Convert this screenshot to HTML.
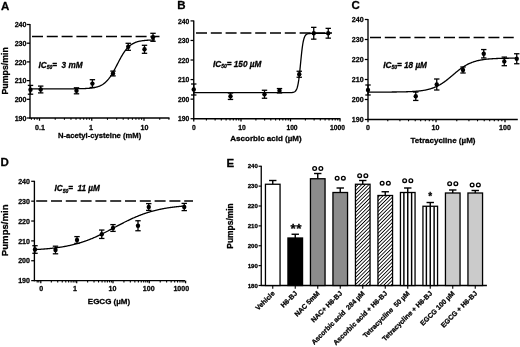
<!DOCTYPE html>
<html><head><meta charset="utf-8"><title>Figure</title>
<style>
html,body{margin:0;padding:0;background:#fff;}
body{width:520px;height:347px;overflow:hidden;}
svg{display:block;will-change:transform;font-family:'Liberation Sans', Arial, sans-serif;fill:#000;}
text{stroke:#000;stroke-width:0.28px;stroke-linejoin:round;}
</style></head><body>
<svg width="520" height="347" viewBox="0 0 520 347">
<rect width="520" height="347" fill="#fff"/>
<line x1="30.00" y1="24.00" x2="30.00" y2="118.60" stroke="#000" stroke-width="1.35" />
<line x1="29.40" y1="118.00" x2="169.50" y2="118.00" stroke="#000" stroke-width="1.35" />
<line x1="26.80" y1="118.00" x2="30.00" y2="118.00" stroke="#000" stroke-width="1.25" />
<text x="0.00" y="0.00" font-size="7.8" text-anchor="end" font-weight="bold" font-style="normal" transform="translate(26.50,120.75) scale(0.91,1)">190</text>
<line x1="26.80" y1="99.30" x2="30.00" y2="99.30" stroke="#000" stroke-width="1.25" />
<text x="0.00" y="0.00" font-size="7.8" text-anchor="end" font-weight="bold" font-style="normal" transform="translate(26.50,102.05) scale(0.91,1)">200</text>
<line x1="26.80" y1="80.60" x2="30.00" y2="80.60" stroke="#000" stroke-width="1.25" />
<text x="0.00" y="0.00" font-size="7.8" text-anchor="end" font-weight="bold" font-style="normal" transform="translate(26.50,83.35) scale(0.91,1)">210</text>
<line x1="26.80" y1="61.90" x2="30.00" y2="61.90" stroke="#000" stroke-width="1.25" />
<text x="0.00" y="0.00" font-size="7.8" text-anchor="end" font-weight="bold" font-style="normal" transform="translate(26.50,64.65) scale(0.91,1)">220</text>
<line x1="26.80" y1="43.20" x2="30.00" y2="43.20" stroke="#000" stroke-width="1.25" />
<text x="0.00" y="0.00" font-size="7.8" text-anchor="end" font-weight="bold" font-style="normal" transform="translate(26.50,45.95) scale(0.91,1)">230</text>
<line x1="26.80" y1="24.50" x2="30.00" y2="24.50" stroke="#000" stroke-width="1.25" />
<text x="0.00" y="0.00" font-size="7.8" text-anchor="end" font-weight="bold" font-style="normal" transform="translate(26.50,27.25) scale(0.91,1)">240</text>
<line x1="39.50" y1="118.00" x2="39.50" y2="120.70" stroke="#000" stroke-width="1.25" />
<text x="0.00" y="0.00" font-size="7.8" text-anchor="middle" font-weight="bold" font-style="normal" transform="translate(40.00,129.80) scale(0.91,1)">0.1</text>
<line x1="91.75" y1="118.00" x2="91.75" y2="120.70" stroke="#000" stroke-width="1.25" />
<text x="0.00" y="0.00" font-size="7.8" text-anchor="middle" font-weight="bold" font-style="normal" transform="translate(91.00,129.80) scale(0.91,1)">1</text>
<line x1="144.00" y1="118.00" x2="144.00" y2="120.70" stroke="#000" stroke-width="1.25" />
<text x="0.00" y="0.00" font-size="7.8" text-anchor="middle" font-weight="bold" font-style="normal" transform="translate(144.50,129.80) scale(0.91,1)">10</text>
<line x1="31.41" y1="118.00" x2="31.41" y2="119.80" stroke="#000" stroke-width="1.1" />
<line x1="34.44" y1="118.00" x2="34.44" y2="119.80" stroke="#000" stroke-width="1.1" />
<line x1="37.11" y1="118.00" x2="37.11" y2="119.80" stroke="#000" stroke-width="1.1" />
<line x1="55.23" y1="118.00" x2="55.23" y2="119.80" stroke="#000" stroke-width="1.1" />
<line x1="64.43" y1="118.00" x2="64.43" y2="119.80" stroke="#000" stroke-width="1.1" />
<line x1="70.96" y1="118.00" x2="70.96" y2="119.80" stroke="#000" stroke-width="1.1" />
<line x1="76.02" y1="118.00" x2="76.02" y2="119.80" stroke="#000" stroke-width="1.1" />
<line x1="80.16" y1="118.00" x2="80.16" y2="119.80" stroke="#000" stroke-width="1.1" />
<line x1="83.66" y1="118.00" x2="83.66" y2="119.80" stroke="#000" stroke-width="1.1" />
<line x1="86.69" y1="118.00" x2="86.69" y2="119.80" stroke="#000" stroke-width="1.1" />
<line x1="89.36" y1="118.00" x2="89.36" y2="119.80" stroke="#000" stroke-width="1.1" />
<line x1="107.48" y1="118.00" x2="107.48" y2="119.80" stroke="#000" stroke-width="1.1" />
<line x1="116.68" y1="118.00" x2="116.68" y2="119.80" stroke="#000" stroke-width="1.1" />
<line x1="123.21" y1="118.00" x2="123.21" y2="119.80" stroke="#000" stroke-width="1.1" />
<line x1="128.27" y1="118.00" x2="128.27" y2="119.80" stroke="#000" stroke-width="1.1" />
<line x1="132.41" y1="118.00" x2="132.41" y2="119.80" stroke="#000" stroke-width="1.1" />
<line x1="135.91" y1="118.00" x2="135.91" y2="119.80" stroke="#000" stroke-width="1.1" />
<line x1="138.94" y1="118.00" x2="138.94" y2="119.80" stroke="#000" stroke-width="1.1" />
<line x1="141.61" y1="118.00" x2="141.61" y2="119.80" stroke="#000" stroke-width="1.1" />
<line x1="159.73" y1="118.00" x2="159.73" y2="119.80" stroke="#000" stroke-width="1.1" />
<line x1="168.93" y1="118.00" x2="168.93" y2="119.80" stroke="#000" stroke-width="1.1" />
<line x1="32.00" y1="36.47" x2="159.50" y2="36.47" stroke="#000" stroke-width="1.5" stroke-dasharray="11 3.8"/>
<polyline points="30.00,88.83 30.50,88.83 31.00,88.83 31.50,88.83 32.00,88.83 32.50,88.83 33.00,88.83 33.50,88.83 34.00,88.83 34.50,88.83 35.00,88.83 35.50,88.83 36.00,88.83 36.50,88.83 37.00,88.83 37.50,88.83 38.00,88.83 38.50,88.83 39.00,88.83 39.50,88.83 40.00,88.83 40.50,88.83 41.00,88.83 41.50,88.83 42.00,88.83 42.50,88.83 43.00,88.83 43.50,88.83 44.00,88.83 44.50,88.83 45.00,88.83 45.50,88.83 46.00,88.83 46.50,88.83 47.00,88.83 47.50,88.83 48.00,88.83 48.50,88.83 49.00,88.83 49.50,88.83 50.00,88.83 50.50,88.83 51.00,88.83 51.50,88.83 52.00,88.83 52.50,88.83 53.00,88.83 53.50,88.83 54.00,88.83 54.50,88.83 55.00,88.83 55.50,88.83 56.00,88.83 56.50,88.82 57.00,88.82 57.50,88.82 58.00,88.82 58.50,88.82 59.00,88.82 59.50,88.82 60.00,88.82 60.50,88.82 61.00,88.82 61.50,88.82 62.00,88.82 62.50,88.82 63.00,88.82 63.50,88.82 64.00,88.82 64.50,88.82 65.00,88.82 65.50,88.81 66.00,88.81 66.50,88.81 67.00,88.81 67.50,88.81 68.00,88.81 68.50,88.81 69.00,88.80 69.50,88.80 70.00,88.80 70.50,88.80 71.00,88.80 71.50,88.79 72.00,88.79 72.50,88.79 73.00,88.78 73.50,88.78 74.00,88.78 74.50,88.77 75.00,88.77 75.50,88.76 76.00,88.76 76.50,88.75 77.00,88.75 77.50,88.74 78.00,88.73 78.50,88.72 79.00,88.72 79.50,88.71 80.00,88.70 80.50,88.69 81.00,88.67 81.50,88.66 82.00,88.65 82.50,88.63 83.00,88.62 83.50,88.60 84.00,88.58 84.50,88.56 85.00,88.54 85.50,88.51 86.00,88.49 86.50,88.46 87.00,88.43 87.50,88.40 88.00,88.36 88.50,88.32 89.00,88.28 89.50,88.24 90.00,88.19 90.50,88.14 91.00,88.08 91.50,88.02 92.00,87.96 92.50,87.88 93.00,87.81 93.50,87.73 94.00,87.64 94.50,87.54 95.00,87.44 95.50,87.33 96.00,87.21 96.50,87.08 97.00,86.94 97.50,86.79 98.00,86.63 98.50,86.46 99.00,86.27 99.50,86.07 100.00,85.86 100.50,85.63 101.00,85.38 101.50,85.12 102.00,84.84 102.50,84.54 103.00,84.22 103.50,83.88 104.00,83.51 104.50,83.13 105.00,82.71 105.50,82.28 106.00,81.81 106.50,81.32 107.00,80.80 107.50,80.26 108.00,79.68 108.50,79.08 109.00,78.44 109.50,77.78 110.00,77.09 110.50,76.36 111.00,75.61 111.50,74.83 112.00,74.03 112.50,73.19 113.00,72.34 113.50,71.46 114.00,70.56 114.50,69.64 115.00,68.71 115.50,67.76 116.00,66.80 116.50,65.84 117.00,64.87 117.50,63.90 118.00,62.93 118.50,61.96 119.00,61.00 119.50,60.06 120.00,59.12 120.50,58.20 121.00,57.30 121.50,56.42 122.00,55.56 122.50,54.72 123.00,53.92 123.50,53.13 124.00,52.38 124.50,51.65 125.00,50.96 125.50,50.29 126.00,49.65 126.50,49.04 127.00,48.46 127.50,47.92 128.00,47.39 128.50,46.90 129.00,46.43 129.50,45.99 130.00,45.58 130.50,45.19 131.00,44.82 131.50,44.48 132.00,44.16 132.50,43.85 133.00,43.57 133.50,43.31 134.00,43.06 134.50,42.83 135.00,42.61 135.50,42.41 136.00,42.22 136.50,42.05 137.00,41.89 137.50,41.74 138.00,41.60 138.50,41.47 139.00,41.35 139.50,41.23 140.00,41.13 140.50,41.03 141.00,40.94 141.50,40.86 142.00,40.79 142.50,40.71 143.00,40.65 143.50,40.59 144.00,40.53 144.50,40.48 145.00,40.43 145.50,40.38 146.00,40.34 146.50,40.30 147.00,40.27 147.50,40.24 148.00,40.21 148.50,40.18 149.00,40.15 149.50,40.13 150.00,40.11 150.50,40.08 151.00,40.07 151.50,40.05 152.00,40.03 152.50,40.02 153.00,40.00 153.50,39.99 154.00,39.98 154.50,39.97 155.00,39.96" fill="none" stroke="#000" stroke-width="1.3"/>
<line x1="30.50" y1="85.40" x2="30.50" y2="94.20" stroke="#000" stroke-width="1.3" />
<line x1="27.80" y1="85.40" x2="33.20" y2="85.40" stroke="#000" stroke-width="1.3" />
<line x1="27.80" y1="94.20" x2="33.20" y2="94.20" stroke="#000" stroke-width="1.3" />
<circle cx="30.50" cy="89.80" r="2.2" fill="#000"/>
<line x1="40.70" y1="86.10" x2="40.70" y2="92.90" stroke="#000" stroke-width="1.3" />
<line x1="38.00" y1="86.10" x2="43.40" y2="86.10" stroke="#000" stroke-width="1.3" />
<line x1="38.00" y1="92.90" x2="43.40" y2="92.90" stroke="#000" stroke-width="1.3" />
<circle cx="40.70" cy="89.50" r="2.2" fill="#000"/>
<line x1="76.50" y1="87.80" x2="76.50" y2="93.80" stroke="#000" stroke-width="1.3" />
<line x1="73.80" y1="87.80" x2="79.20" y2="87.80" stroke="#000" stroke-width="1.3" />
<line x1="73.80" y1="93.80" x2="79.20" y2="93.80" stroke="#000" stroke-width="1.3" />
<circle cx="76.50" cy="90.80" r="2.2" fill="#000"/>
<line x1="92.40" y1="79.70" x2="92.40" y2="87.50" stroke="#000" stroke-width="1.3" />
<line x1="89.70" y1="79.70" x2="95.10" y2="79.70" stroke="#000" stroke-width="1.3" />
<line x1="89.70" y1="87.50" x2="95.10" y2="87.50" stroke="#000" stroke-width="1.3" />
<circle cx="92.40" cy="83.60" r="2.2" fill="#000"/>
<line x1="113.00" y1="71.10" x2="113.00" y2="75.90" stroke="#000" stroke-width="1.3" />
<line x1="110.30" y1="71.10" x2="115.70" y2="71.10" stroke="#000" stroke-width="1.3" />
<line x1="110.30" y1="75.90" x2="115.70" y2="75.90" stroke="#000" stroke-width="1.3" />
<circle cx="113.00" cy="73.50" r="2.2" fill="#000"/>
<line x1="128.25" y1="43.30" x2="128.25" y2="50.30" stroke="#000" stroke-width="1.3" />
<line x1="125.55" y1="43.30" x2="130.95" y2="43.30" stroke="#000" stroke-width="1.3" />
<line x1="125.55" y1="50.30" x2="130.95" y2="50.30" stroke="#000" stroke-width="1.3" />
<circle cx="128.25" cy="46.80" r="2.2" fill="#000"/>
<line x1="144.50" y1="45.30" x2="144.50" y2="53.30" stroke="#000" stroke-width="1.3" />
<line x1="141.80" y1="45.30" x2="147.20" y2="45.30" stroke="#000" stroke-width="1.3" />
<line x1="141.80" y1="53.30" x2="147.20" y2="53.30" stroke="#000" stroke-width="1.3" />
<circle cx="144.50" cy="49.30" r="2.2" fill="#000"/>
<line x1="153.00" y1="33.30" x2="153.00" y2="41.30" stroke="#000" stroke-width="1.3" />
<line x1="150.30" y1="33.30" x2="155.70" y2="33.30" stroke="#000" stroke-width="1.3" />
<line x1="150.30" y1="41.30" x2="155.70" y2="41.30" stroke="#000" stroke-width="1.3" />
<circle cx="153.00" cy="37.30" r="2.2" fill="#000"/>
<text x="0.90" y="9.60" font-size="11.5" text-anchor="start" font-weight="bold" font-style="normal" >A</text>
<text x="38.5" y="68" font-size="8.2" font-weight="bold" font-style="italic" text-anchor="start">IC<tspan font-size="5.0" dy="1.3">50</tspan><tspan dy="-1.3">=&#160; 3 mM</tspan></text>
<text x="99.60" y="138.40" font-size="7.65" text-anchor="middle" font-weight="bold" font-style="normal" >N-acetyl-cysteine (mM)</text>
<text x="0.00" y="0.00" font-size="8.8" text-anchor="middle" font-weight="bold" font-style="normal" transform="translate(7.5,70.8) rotate(-90)">Pumps/min</text>
<line x1="193.75" y1="20.40" x2="193.75" y2="119.30" stroke="#000" stroke-width="1.35" />
<line x1="193.15" y1="118.70" x2="340.50" y2="118.70" stroke="#000" stroke-width="1.35" />
<line x1="190.55" y1="118.70" x2="193.75" y2="118.70" stroke="#000" stroke-width="1.25" />
<text x="0.00" y="0.00" font-size="7.4" text-anchor="end" font-weight="bold" font-style="normal" transform="translate(189.35,121.45) scale(0.91,1)">190</text>
<line x1="190.55" y1="99.14" x2="193.75" y2="99.14" stroke="#000" stroke-width="1.25" />
<text x="0.00" y="0.00" font-size="7.4" text-anchor="end" font-weight="bold" font-style="normal" transform="translate(189.35,101.89) scale(0.91,1)">200</text>
<line x1="190.55" y1="79.58" x2="193.75" y2="79.58" stroke="#000" stroke-width="1.25" />
<text x="0.00" y="0.00" font-size="7.4" text-anchor="end" font-weight="bold" font-style="normal" transform="translate(189.35,82.33) scale(0.91,1)">210</text>
<line x1="190.55" y1="60.02" x2="193.75" y2="60.02" stroke="#000" stroke-width="1.25" />
<text x="0.00" y="0.00" font-size="7.4" text-anchor="end" font-weight="bold" font-style="normal" transform="translate(189.35,62.77) scale(0.91,1)">220</text>
<line x1="190.55" y1="40.46" x2="193.75" y2="40.46" stroke="#000" stroke-width="1.25" />
<text x="0.00" y="0.00" font-size="7.4" text-anchor="end" font-weight="bold" font-style="normal" transform="translate(189.35,43.21) scale(0.91,1)">230</text>
<line x1="190.55" y1="20.90" x2="193.75" y2="20.90" stroke="#000" stroke-width="1.25" />
<text x="0.00" y="0.00" font-size="7.4" text-anchor="end" font-weight="bold" font-style="normal" transform="translate(189.35,23.65) scale(0.91,1)">240</text>
<line x1="193.75" y1="118.70" x2="193.75" y2="121.40" stroke="#000" stroke-width="1.25" />
<text x="0.00" y="0.00" font-size="7.4" text-anchor="middle" font-weight="bold" font-style="normal" transform="translate(193.75,130.00) scale(0.91,1)">0</text>
<line x1="241.00" y1="118.70" x2="241.00" y2="121.40" stroke="#000" stroke-width="1.25" />
<text x="0.00" y="0.00" font-size="7.4" text-anchor="middle" font-weight="bold" font-style="normal" transform="translate(242.00,130.00) scale(0.91,1)">10</text>
<line x1="290.50" y1="118.70" x2="290.50" y2="121.40" stroke="#000" stroke-width="1.25" />
<text x="0.00" y="0.00" font-size="7.4" text-anchor="middle" font-weight="bold" font-style="normal" transform="translate(292.00,130.00) scale(0.91,1)">100</text>
<line x1="340.00" y1="118.70" x2="340.00" y2="121.40" stroke="#000" stroke-width="1.25" />
<text x="0.00" y="0.00" font-size="7.4" text-anchor="middle" font-weight="bold" font-style="normal" transform="translate(337.50,130.00) scale(0.91,1)">1000</text>
<line x1="206.40" y1="118.70" x2="206.40" y2="120.50" stroke="#000" stroke-width="1.1" />
<line x1="215.12" y1="118.70" x2="215.12" y2="120.50" stroke="#000" stroke-width="1.1" />
<line x1="221.30" y1="118.70" x2="221.30" y2="120.50" stroke="#000" stroke-width="1.1" />
<line x1="226.10" y1="118.70" x2="226.10" y2="120.50" stroke="#000" stroke-width="1.1" />
<line x1="230.02" y1="118.70" x2="230.02" y2="120.50" stroke="#000" stroke-width="1.1" />
<line x1="233.33" y1="118.70" x2="233.33" y2="120.50" stroke="#000" stroke-width="1.1" />
<line x1="236.20" y1="118.70" x2="236.20" y2="120.50" stroke="#000" stroke-width="1.1" />
<line x1="238.74" y1="118.70" x2="238.74" y2="120.50" stroke="#000" stroke-width="1.1" />
<line x1="255.90" y1="118.70" x2="255.90" y2="120.50" stroke="#000" stroke-width="1.1" />
<line x1="264.62" y1="118.70" x2="264.62" y2="120.50" stroke="#000" stroke-width="1.1" />
<line x1="270.80" y1="118.70" x2="270.80" y2="120.50" stroke="#000" stroke-width="1.1" />
<line x1="275.60" y1="118.70" x2="275.60" y2="120.50" stroke="#000" stroke-width="1.1" />
<line x1="279.52" y1="118.70" x2="279.52" y2="120.50" stroke="#000" stroke-width="1.1" />
<line x1="282.83" y1="118.70" x2="282.83" y2="120.50" stroke="#000" stroke-width="1.1" />
<line x1="285.70" y1="118.70" x2="285.70" y2="120.50" stroke="#000" stroke-width="1.1" />
<line x1="288.24" y1="118.70" x2="288.24" y2="120.50" stroke="#000" stroke-width="1.1" />
<line x1="305.40" y1="118.70" x2="305.40" y2="120.50" stroke="#000" stroke-width="1.1" />
<line x1="314.12" y1="118.70" x2="314.12" y2="120.50" stroke="#000" stroke-width="1.1" />
<line x1="320.30" y1="118.70" x2="320.30" y2="120.50" stroke="#000" stroke-width="1.1" />
<line x1="325.10" y1="118.70" x2="325.10" y2="120.50" stroke="#000" stroke-width="1.1" />
<line x1="329.02" y1="118.70" x2="329.02" y2="120.50" stroke="#000" stroke-width="1.1" />
<line x1="332.33" y1="118.70" x2="332.33" y2="120.50" stroke="#000" stroke-width="1.1" />
<line x1="335.20" y1="118.70" x2="335.20" y2="120.50" stroke="#000" stroke-width="1.1" />
<line x1="337.74" y1="118.70" x2="337.74" y2="120.50" stroke="#000" stroke-width="1.1" />
<line x1="196.00" y1="32.93" x2="332.00" y2="32.93" stroke="#000" stroke-width="1.5" stroke-dasharray="11 3.8"/>
<polyline points="193.75,92.69 194.25,92.69 194.75,92.69 195.25,92.69 195.75,92.69 196.25,92.69 196.75,92.69 197.25,92.69 197.75,92.69 198.25,92.69 198.75,92.69 199.25,92.69 199.75,92.69 200.25,92.69 200.75,92.69 201.25,92.69 201.75,92.69 202.25,92.69 202.75,92.69 203.25,92.69 203.75,92.69 204.25,92.69 204.75,92.69 205.25,92.69 205.75,92.69 206.25,92.69 206.75,92.69 207.25,92.69 207.75,92.69 208.25,92.69 208.75,92.69 209.25,92.69 209.75,92.69 210.25,92.69 210.75,92.69 211.25,92.69 211.75,92.69 212.25,92.69 212.75,92.69 213.25,92.69 213.75,92.69 214.25,92.69 214.75,92.69 215.25,92.69 215.75,92.69 216.25,92.69 216.75,92.69 217.25,92.69 217.75,92.69 218.25,92.69 218.75,92.69 219.25,92.69 219.75,92.69 220.25,92.69 220.75,92.69 221.25,92.69 221.75,92.69 222.25,92.69 222.75,92.69 223.25,92.69 223.75,92.69 224.25,92.69 224.75,92.69 225.25,92.69 225.75,92.69 226.25,92.69 226.75,92.69 227.25,92.69 227.75,92.69 228.25,92.69 228.75,92.69 229.25,92.69 229.75,92.69 230.25,92.69 230.75,92.69 231.25,92.69 231.75,92.69 232.25,92.69 232.75,92.69 233.25,92.69 233.75,92.69 234.25,92.69 234.75,92.69 235.25,92.69 235.75,92.69 236.25,92.69 236.75,92.69 237.25,92.69 237.75,92.69 238.25,92.69 238.75,92.69 239.25,92.69 239.75,92.69 240.25,92.69 240.75,92.69 241.25,92.69 241.75,92.69 242.25,92.69 242.75,92.69 243.25,92.69 243.75,92.69 244.25,92.69 244.75,92.69 245.25,92.69 245.75,92.69 246.25,92.69 246.75,92.69 247.25,92.69 247.75,92.69 248.25,92.69 248.75,92.69 249.25,92.69 249.75,92.69 250.25,92.69 250.75,92.69 251.25,92.69 251.75,92.69 252.25,92.69 252.75,92.69 253.25,92.69 253.75,92.69 254.25,92.69 254.75,92.69 255.25,92.69 255.75,92.69 256.25,92.69 256.75,92.69 257.25,92.69 257.75,92.69 258.25,92.69 258.75,92.69 259.25,92.69 259.75,92.69 260.25,92.69 260.75,92.69 261.25,92.69 261.75,92.69 262.25,92.69 262.75,92.69 263.25,92.69 263.75,92.69 264.25,92.69 264.75,92.69 265.25,92.69 265.75,92.69 266.25,92.69 266.75,92.69 267.25,92.69 267.75,92.69 268.25,92.69 268.75,92.69 269.25,92.69 269.75,92.69 270.25,92.69 270.75,92.69 271.25,92.69 271.75,92.69 272.25,92.69 272.75,92.69 273.25,92.69 273.75,92.69 274.25,92.69 274.75,92.69 275.25,92.69 275.75,92.69 276.25,92.69 276.75,92.69 277.25,92.69 277.75,92.69 278.25,92.69 278.75,92.69 279.25,92.69 279.75,92.69 280.25,92.69 280.75,92.69 281.25,92.69 281.75,92.69 282.25,92.69 282.75,92.68 283.25,92.68 283.75,92.68 284.25,92.68 284.75,92.68 285.25,92.68 285.75,92.68 286.25,92.68 286.75,92.68 287.25,92.68 287.75,92.68 288.25,92.67 288.75,92.67 289.25,92.66 289.75,92.65 290.25,92.64 290.75,92.62 291.25,92.60 291.75,92.56 292.25,92.51 292.75,92.44 293.25,92.34 293.75,92.19 294.25,91.99 294.75,91.70 295.25,91.30 295.75,90.75 296.25,89.97 296.75,88.91 297.25,87.48 297.75,85.57 298.25,83.08 298.75,79.93 299.25,76.09 299.75,71.63 300.25,66.69 300.75,61.54 301.25,56.48 301.75,51.80 302.25,47.69 302.75,44.25 303.25,41.50 303.75,39.36 304.25,37.73 304.75,36.53 305.25,35.65 305.75,35.01 306.25,34.55 306.75,34.22 307.25,33.99 307.75,33.82 308.25,33.70 308.75,33.62 309.25,33.56 309.75,33.52 310.25,33.49 310.75,33.47 311.25,33.45 311.75,33.44 312.25,33.44 312.75,33.43 313.25,33.43 313.75,33.42 314.25,33.42 314.75,33.42 315.25,33.42 315.75,33.42 316.25,33.42 316.75,33.42 317.25,33.42 317.75,33.42 318.25,33.42 318.75,33.42 319.25,33.42 319.75,33.42 320.25,33.42 320.75,33.42 321.25,33.42 321.75,33.42 322.25,33.42 322.75,33.42 323.25,33.42 323.75,33.42 324.25,33.42 324.75,33.42 325.25,33.42 325.75,33.42 326.25,33.42 326.75,33.42 327.25,33.42 327.75,33.42" fill="none" stroke="#000" stroke-width="1.3"/>
<line x1="193.75" y1="84.00" x2="193.75" y2="95.00" stroke="#000" stroke-width="1.3" />
<line x1="191.05" y1="84.00" x2="196.45" y2="84.00" stroke="#000" stroke-width="1.3" />
<line x1="191.05" y1="95.00" x2="196.45" y2="95.00" stroke="#000" stroke-width="1.3" />
<circle cx="193.75" cy="89.50" r="2.2" fill="#000"/>
<line x1="230.50" y1="93.05" x2="230.50" y2="99.45" stroke="#000" stroke-width="1.3" />
<line x1="227.80" y1="93.05" x2="233.20" y2="93.05" stroke="#000" stroke-width="1.3" />
<line x1="227.80" y1="99.45" x2="233.20" y2="99.45" stroke="#000" stroke-width="1.3" />
<circle cx="230.50" cy="96.25" r="2.2" fill="#000"/>
<line x1="264.50" y1="90.25" x2="264.50" y2="98.25" stroke="#000" stroke-width="1.3" />
<line x1="261.80" y1="90.25" x2="267.20" y2="90.25" stroke="#000" stroke-width="1.3" />
<line x1="261.80" y1="98.25" x2="267.20" y2="98.25" stroke="#000" stroke-width="1.3" />
<circle cx="264.50" cy="94.25" r="2.2" fill="#000"/>
<line x1="279.50" y1="88.55" x2="279.50" y2="92.95" stroke="#000" stroke-width="1.3" />
<line x1="276.80" y1="88.55" x2="282.20" y2="88.55" stroke="#000" stroke-width="1.3" />
<line x1="276.80" y1="92.95" x2="282.20" y2="92.95" stroke="#000" stroke-width="1.3" />
<circle cx="279.50" cy="90.75" r="2.2" fill="#000"/>
<line x1="299.25" y1="71.25" x2="299.25" y2="77.25" stroke="#000" stroke-width="1.3" />
<line x1="296.55" y1="71.25" x2="301.95" y2="71.25" stroke="#000" stroke-width="1.3" />
<line x1="296.55" y1="77.25" x2="301.95" y2="77.25" stroke="#000" stroke-width="1.3" />
<circle cx="299.25" cy="74.25" r="2.2" fill="#000"/>
<line x1="313.75" y1="27.35" x2="313.75" y2="39.15" stroke="#000" stroke-width="1.3" />
<line x1="311.05" y1="27.35" x2="316.45" y2="27.35" stroke="#000" stroke-width="1.3" />
<line x1="311.05" y1="39.15" x2="316.45" y2="39.15" stroke="#000" stroke-width="1.3" />
<circle cx="313.75" cy="33.25" r="2.2" fill="#000"/>
<line x1="328.25" y1="28.35" x2="328.25" y2="38.15" stroke="#000" stroke-width="1.3" />
<line x1="325.55" y1="28.35" x2="330.95" y2="28.35" stroke="#000" stroke-width="1.3" />
<line x1="325.55" y1="38.15" x2="330.95" y2="38.15" stroke="#000" stroke-width="1.3" />
<circle cx="328.25" cy="33.25" r="2.2" fill="#000"/>
<text x="177.30" y="9.30" font-size="11.5" text-anchor="start" font-weight="bold" font-style="normal" >B</text>
<text x="213" y="67" font-size="8.2" font-weight="bold" font-style="italic" text-anchor="start">IC<tspan font-size="5.0" dy="1.3">50</tspan><tspan dy="-1.3">= 150 &#181;M</tspan></text>
<text x="266.00" y="140.80" font-size="8.0" text-anchor="middle" font-weight="bold" font-style="normal" >Ascorbic acid (&#181;M)</text>
<line x1="368.00" y1="19.00" x2="368.00" y2="120.10" stroke="#000" stroke-width="1.35" />
<line x1="367.40" y1="119.50" x2="517.80" y2="119.50" stroke="#000" stroke-width="1.35" />
<line x1="364.80" y1="119.50" x2="368.00" y2="119.50" stroke="#000" stroke-width="1.25" />
<text x="0.00" y="0.00" font-size="7.8" text-anchor="end" font-weight="bold" font-style="normal" transform="translate(363.60,122.25) scale(0.91,1)">190</text>
<line x1="364.80" y1="99.50" x2="368.00" y2="99.50" stroke="#000" stroke-width="1.25" />
<text x="0.00" y="0.00" font-size="7.8" text-anchor="end" font-weight="bold" font-style="normal" transform="translate(363.60,102.25) scale(0.91,1)">200</text>
<line x1="364.80" y1="79.50" x2="368.00" y2="79.50" stroke="#000" stroke-width="1.25" />
<text x="0.00" y="0.00" font-size="7.8" text-anchor="end" font-weight="bold" font-style="normal" transform="translate(363.60,82.25) scale(0.91,1)">210</text>
<line x1="364.80" y1="59.50" x2="368.00" y2="59.50" stroke="#000" stroke-width="1.25" />
<text x="0.00" y="0.00" font-size="7.8" text-anchor="end" font-weight="bold" font-style="normal" transform="translate(363.60,62.25) scale(0.91,1)">220</text>
<line x1="364.80" y1="39.50" x2="368.00" y2="39.50" stroke="#000" stroke-width="1.25" />
<text x="0.00" y="0.00" font-size="7.8" text-anchor="end" font-weight="bold" font-style="normal" transform="translate(363.60,42.25) scale(0.91,1)">230</text>
<line x1="364.80" y1="19.50" x2="368.00" y2="19.50" stroke="#000" stroke-width="1.25" />
<text x="0.00" y="0.00" font-size="7.8" text-anchor="end" font-weight="bold" font-style="normal" transform="translate(363.60,22.25) scale(0.91,1)">240</text>
<line x1="368.00" y1="119.50" x2="368.00" y2="122.20" stroke="#000" stroke-width="1.25" />
<text x="0.00" y="0.00" font-size="7.8" text-anchor="middle" font-weight="bold" font-style="normal" transform="translate(368.00,130.30) scale(0.91,1)">0</text>
<line x1="436.00" y1="119.50" x2="436.00" y2="122.20" stroke="#000" stroke-width="1.25" />
<text x="0.00" y="0.00" font-size="7.8" text-anchor="middle" font-weight="bold" font-style="normal" transform="translate(435.50,130.30) scale(0.91,1)">10</text>
<line x1="505.00" y1="119.50" x2="505.00" y2="122.20" stroke="#000" stroke-width="1.25" />
<text x="0.00" y="0.00" font-size="7.8" text-anchor="middle" font-weight="bold" font-style="normal" transform="translate(505.00,130.30) scale(0.91,1)">100</text>
<line x1="387.77" y1="119.50" x2="387.77" y2="121.30" stroke="#000" stroke-width="1.1" />
<line x1="399.92" y1="119.50" x2="399.92" y2="121.30" stroke="#000" stroke-width="1.1" />
<line x1="408.54" y1="119.50" x2="408.54" y2="121.30" stroke="#000" stroke-width="1.1" />
<line x1="415.23" y1="119.50" x2="415.23" y2="121.30" stroke="#000" stroke-width="1.1" />
<line x1="420.69" y1="119.50" x2="420.69" y2="121.30" stroke="#000" stroke-width="1.1" />
<line x1="425.31" y1="119.50" x2="425.31" y2="121.30" stroke="#000" stroke-width="1.1" />
<line x1="429.31" y1="119.50" x2="429.31" y2="121.30" stroke="#000" stroke-width="1.1" />
<line x1="432.84" y1="119.50" x2="432.84" y2="121.30" stroke="#000" stroke-width="1.1" />
<line x1="456.77" y1="119.50" x2="456.77" y2="121.30" stroke="#000" stroke-width="1.1" />
<line x1="468.92" y1="119.50" x2="468.92" y2="121.30" stroke="#000" stroke-width="1.1" />
<line x1="477.54" y1="119.50" x2="477.54" y2="121.30" stroke="#000" stroke-width="1.1" />
<line x1="484.23" y1="119.50" x2="484.23" y2="121.30" stroke="#000" stroke-width="1.1" />
<line x1="489.69" y1="119.50" x2="489.69" y2="121.30" stroke="#000" stroke-width="1.1" />
<line x1="494.31" y1="119.50" x2="494.31" y2="121.30" stroke="#000" stroke-width="1.1" />
<line x1="498.31" y1="119.50" x2="498.31" y2="121.30" stroke="#000" stroke-width="1.1" />
<line x1="501.84" y1="119.50" x2="501.84" y2="121.30" stroke="#000" stroke-width="1.1" />
<line x1="370.00" y1="37.50" x2="513.75" y2="37.50" stroke="#000" stroke-width="1.5" stroke-dasharray="11 3.8"/>
<polyline points="368.00,92.09 368.50,92.09 369.00,92.09 369.50,92.09 370.00,92.09 370.50,92.09 371.00,92.09 371.50,92.09 372.00,92.09 372.50,92.09 373.00,92.09 373.50,92.09 374.00,92.09 374.50,92.09 375.00,92.09 375.50,92.09 376.00,92.08 376.50,92.08 377.00,92.08 377.50,92.08 378.00,92.08 378.50,92.08 379.00,92.08 379.50,92.08 380.00,92.08 380.50,92.08 381.00,92.07 381.50,92.07 382.00,92.07 382.50,92.07 383.00,92.07 383.50,92.07 384.00,92.07 384.50,92.06 385.00,92.06 385.50,92.06 386.00,92.06 386.50,92.06 387.00,92.05 387.50,92.05 388.00,92.05 388.50,92.05 389.00,92.04 389.50,92.04 390.00,92.04 390.50,92.03 391.00,92.03 391.50,92.03 392.00,92.02 392.50,92.02 393.00,92.01 393.50,92.01 394.00,92.01 394.50,92.00 395.00,92.00 395.50,91.99 396.00,91.98 396.50,91.98 397.00,91.97 397.50,91.97 398.00,91.96 398.50,91.95 399.00,91.94 399.50,91.94 400.00,91.93 400.50,91.92 401.00,91.91 401.50,91.90 402.00,91.89 402.50,91.88 403.00,91.87 403.50,91.86 404.00,91.84 404.50,91.83 405.00,91.82 405.50,91.80 406.00,91.79 406.50,91.77 407.00,91.76 407.50,91.74 408.00,91.72 408.50,91.70 409.00,91.68 409.50,91.66 410.00,91.64 410.50,91.61 411.00,91.59 411.50,91.56 412.00,91.54 412.50,91.51 413.00,91.48 413.50,91.45 414.00,91.41 414.50,91.38 415.00,91.34 415.50,91.30 416.00,91.26 416.50,91.22 417.00,91.18 417.50,91.13 418.00,91.08 418.50,91.03 419.00,90.98 419.50,90.93 420.00,90.87 420.50,90.81 421.00,90.74 421.50,90.68 422.00,90.61 422.50,90.53 423.00,90.46 423.50,90.38 424.00,90.29 424.50,90.21 425.00,90.11 425.50,90.02 426.00,89.92 426.50,89.81 427.00,89.70 427.50,89.59 428.00,89.47 428.50,89.35 429.00,89.22 429.50,89.08 430.00,88.94 430.50,88.80 431.00,88.65 431.50,88.49 432.00,88.32 432.50,88.15 433.00,87.97 433.50,87.79 434.00,87.60 434.50,87.40 435.00,87.19 435.50,86.98 436.00,86.75 436.50,86.52 437.00,86.29 437.50,86.04 438.00,85.79 438.50,85.53 439.00,85.26 439.50,84.98 440.00,84.69 440.50,84.40 441.00,84.10 441.50,83.79 442.00,83.47 442.50,83.14 443.00,82.81 443.50,82.47 444.00,82.12 444.50,81.76 445.00,81.40 445.50,81.03 446.00,80.65 446.50,80.27 447.00,79.88 447.50,79.48 448.00,79.08 448.50,78.68 449.00,78.27 449.50,77.86 450.00,77.44 450.50,77.02 451.00,76.60 451.50,76.18 452.00,75.75 452.50,75.33 453.00,74.90 453.50,74.48 454.00,74.05 454.50,73.63 455.00,73.21 455.50,72.79 456.00,72.37 456.50,71.96 457.00,71.55 457.50,71.15 458.00,70.75 458.50,70.35 459.00,69.96 459.50,69.58 460.00,69.20 460.50,68.83 461.00,68.47 461.50,68.11 462.00,67.76 462.50,67.42 463.00,67.08 463.50,66.76 464.00,66.44 464.50,66.13 465.00,65.82 465.50,65.53 466.00,65.24 466.50,64.96 467.00,64.69 467.50,64.43 468.00,64.18 468.50,63.93 469.00,63.69 469.50,63.46 470.00,63.24 470.50,63.03 471.00,62.82 471.50,62.62 472.00,62.43 472.50,62.24 473.00,62.06 473.50,61.89 474.00,61.73 474.50,61.57 475.00,61.41 475.50,61.27 476.00,61.13 476.50,60.99 477.00,60.86 477.50,60.74 478.00,60.62 478.50,60.50 479.00,60.39 479.50,60.29 480.00,60.19 480.50,60.09 481.00,60.00 481.50,59.91 482.00,59.83 482.50,59.75 483.00,59.67 483.50,59.60 484.00,59.53 484.50,59.46 485.00,59.40 485.50,59.34 486.00,59.28 486.50,59.22 487.00,59.17 487.50,59.12 488.00,59.07 488.50,59.02 489.00,58.98 489.50,58.94 490.00,58.90 490.50,58.86 491.00,58.82 491.50,58.79 492.00,58.76 492.50,58.73 493.00,58.70 493.50,58.67 494.00,58.64 494.50,58.61 495.00,58.59 495.50,58.57 496.00,58.54 496.50,58.52 497.00,58.50 497.50,58.48 498.00,58.46 498.50,58.45 499.00,58.43 499.50,58.41 500.00,58.40 500.50,58.38 501.00,58.37 501.50,58.36 502.00,58.34 502.50,58.33 503.00,58.32 503.50,58.31 504.00,58.30 504.50,58.29 505.00,58.28 505.50,58.27 506.00,58.26 506.50,58.26 507.00,58.25 507.50,58.24 508.00,58.23 508.50,58.23 509.00,58.22 509.50,58.22 510.00,58.21 510.50,58.20 511.00,58.20 511.50,58.19 512.00,58.19 512.50,58.19 513.00,58.18 513.50,58.18 514.00,58.17 514.50,58.17 515.00,58.17 515.50,58.16 516.00,58.16 516.50,58.16 517.00,58.15" fill="none" stroke="#000" stroke-width="1.3"/>
<line x1="368.00" y1="85.00" x2="368.00" y2="95.00" stroke="#000" stroke-width="1.3" />
<line x1="365.30" y1="85.00" x2="370.70" y2="85.00" stroke="#000" stroke-width="1.3" />
<line x1="365.30" y1="95.00" x2="370.70" y2="95.00" stroke="#000" stroke-width="1.3" />
<circle cx="368.00" cy="90.00" r="2.2" fill="#000"/>
<line x1="415.75" y1="92.05" x2="415.75" y2="100.45" stroke="#000" stroke-width="1.3" />
<line x1="413.05" y1="92.05" x2="418.45" y2="92.05" stroke="#000" stroke-width="1.3" />
<line x1="413.05" y1="100.45" x2="418.45" y2="100.45" stroke="#000" stroke-width="1.3" />
<circle cx="415.75" cy="96.25" r="2.2" fill="#000"/>
<line x1="436.75" y1="79.00" x2="436.75" y2="90.00" stroke="#000" stroke-width="1.3" />
<line x1="434.05" y1="79.00" x2="439.45" y2="79.00" stroke="#000" stroke-width="1.3" />
<line x1="434.05" y1="90.00" x2="439.45" y2="90.00" stroke="#000" stroke-width="1.3" />
<circle cx="436.75" cy="84.50" r="2.2" fill="#000"/>
<line x1="463.00" y1="67.00" x2="463.00" y2="73.00" stroke="#000" stroke-width="1.3" />
<line x1="460.30" y1="67.00" x2="465.70" y2="67.00" stroke="#000" stroke-width="1.3" />
<line x1="460.30" y1="73.00" x2="465.70" y2="73.00" stroke="#000" stroke-width="1.3" />
<circle cx="463.00" cy="70.00" r="2.2" fill="#000"/>
<line x1="483.75" y1="49.55" x2="483.75" y2="57.95" stroke="#000" stroke-width="1.3" />
<line x1="481.05" y1="49.55" x2="486.45" y2="49.55" stroke="#000" stroke-width="1.3" />
<line x1="481.05" y1="57.95" x2="486.45" y2="57.95" stroke="#000" stroke-width="1.3" />
<circle cx="483.75" cy="53.75" r="2.2" fill="#000"/>
<line x1="504.30" y1="57.10" x2="504.30" y2="65.70" stroke="#000" stroke-width="1.3" />
<line x1="501.60" y1="57.10" x2="507.00" y2="57.10" stroke="#000" stroke-width="1.3" />
<line x1="501.60" y1="65.70" x2="507.00" y2="65.70" stroke="#000" stroke-width="1.3" />
<circle cx="504.30" cy="61.40" r="2.2" fill="#000"/>
<line x1="516.75" y1="53.75" x2="516.75" y2="63.75" stroke="#000" stroke-width="1.3" />
<line x1="514.05" y1="53.75" x2="519.45" y2="53.75" stroke="#000" stroke-width="1.3" />
<line x1="514.05" y1="63.75" x2="519.45" y2="63.75" stroke="#000" stroke-width="1.3" />
<circle cx="516.75" cy="58.75" r="2.2" fill="#000"/>
<text x="351.60" y="9.30" font-size="11.5" text-anchor="start" font-weight="bold" font-style="normal" >C</text>
<text x="383.2" y="68" font-size="8.2" font-weight="bold" font-style="italic" text-anchor="start">IC<tspan font-size="5.0" dy="1.3">50</tspan><tspan dy="-1.3">= 18 &#181;M</tspan></text>
<text x="443.00" y="142.80" font-size="8.0" text-anchor="middle" font-weight="bold" font-style="normal" >Tetracycline (&#181;M)</text>
<line x1="34.40" y1="180.80" x2="34.40" y2="281.20" stroke="#000" stroke-width="1.35" />
<line x1="33.80" y1="280.60" x2="185.00" y2="280.60" stroke="#000" stroke-width="1.35" />
<line x1="31.20" y1="280.60" x2="34.40" y2="280.60" stroke="#000" stroke-width="1.25" />
<text x="0.00" y="0.00" font-size="7.8" text-anchor="end" font-weight="bold" font-style="normal" transform="translate(30.00,283.35) scale(0.91,1)">190</text>
<line x1="31.20" y1="260.74" x2="34.40" y2="260.74" stroke="#000" stroke-width="1.25" />
<text x="0.00" y="0.00" font-size="7.8" text-anchor="end" font-weight="bold" font-style="normal" transform="translate(30.00,263.49) scale(0.91,1)">200</text>
<line x1="31.20" y1="240.88" x2="34.40" y2="240.88" stroke="#000" stroke-width="1.25" />
<text x="0.00" y="0.00" font-size="7.8" text-anchor="end" font-weight="bold" font-style="normal" transform="translate(30.00,243.63) scale(0.91,1)">210</text>
<line x1="31.20" y1="221.02" x2="34.40" y2="221.02" stroke="#000" stroke-width="1.25" />
<text x="0.00" y="0.00" font-size="7.8" text-anchor="end" font-weight="bold" font-style="normal" transform="translate(30.00,223.77) scale(0.91,1)">220</text>
<line x1="31.20" y1="201.16" x2="34.40" y2="201.16" stroke="#000" stroke-width="1.25" />
<text x="0.00" y="0.00" font-size="7.8" text-anchor="end" font-weight="bold" font-style="normal" transform="translate(30.00,203.91) scale(0.91,1)">230</text>
<line x1="31.20" y1="181.30" x2="34.40" y2="181.30" stroke="#000" stroke-width="1.25" />
<text x="0.00" y="0.00" font-size="7.8" text-anchor="end" font-weight="bold" font-style="normal" transform="translate(30.00,184.05) scale(0.91,1)">240</text>
<line x1="40.80" y1="280.60" x2="40.80" y2="283.30" stroke="#000" stroke-width="1.25" />
<text x="0.00" y="0.00" font-size="7.8" text-anchor="middle" font-weight="bold" font-style="normal" transform="translate(41.25,291.40) scale(0.91,1)">0</text>
<line x1="76.70" y1="280.60" x2="76.70" y2="283.30" stroke="#000" stroke-width="1.25" />
<text x="0.00" y="0.00" font-size="7.8" text-anchor="middle" font-weight="bold" font-style="normal" transform="translate(75.00,291.40) scale(0.91,1)">1</text>
<line x1="113.00" y1="280.60" x2="113.00" y2="283.30" stroke="#000" stroke-width="1.25" />
<text x="0.00" y="0.00" font-size="7.8" text-anchor="middle" font-weight="bold" font-style="normal" transform="translate(112.50,291.40) scale(0.91,1)">10</text>
<line x1="149.30" y1="280.60" x2="149.30" y2="283.30" stroke="#000" stroke-width="1.25" />
<text x="0.00" y="0.00" font-size="7.8" text-anchor="middle" font-weight="bold" font-style="normal" transform="translate(148.75,291.40) scale(0.91,1)">100</text>
<line x1="185.60" y1="280.60" x2="185.60" y2="283.30" stroke="#000" stroke-width="1.25" />
<text x="0.00" y="0.00" font-size="7.8" text-anchor="middle" font-weight="bold" font-style="normal" transform="translate(181.25,291.40) scale(0.91,1)">1000</text>
<line x1="51.33" y1="280.60" x2="51.33" y2="282.40" stroke="#000" stroke-width="1.1" />
<line x1="57.72" y1="280.60" x2="57.72" y2="282.40" stroke="#000" stroke-width="1.1" />
<line x1="62.25" y1="280.60" x2="62.25" y2="282.40" stroke="#000" stroke-width="1.1" />
<line x1="65.77" y1="280.60" x2="65.77" y2="282.40" stroke="#000" stroke-width="1.1" />
<line x1="68.65" y1="280.60" x2="68.65" y2="282.40" stroke="#000" stroke-width="1.1" />
<line x1="71.08" y1="280.60" x2="71.08" y2="282.40" stroke="#000" stroke-width="1.1" />
<line x1="73.18" y1="280.60" x2="73.18" y2="282.40" stroke="#000" stroke-width="1.1" />
<line x1="75.04" y1="280.60" x2="75.04" y2="282.40" stroke="#000" stroke-width="1.1" />
<line x1="87.63" y1="280.60" x2="87.63" y2="282.40" stroke="#000" stroke-width="1.1" />
<line x1="94.02" y1="280.60" x2="94.02" y2="282.40" stroke="#000" stroke-width="1.1" />
<line x1="98.55" y1="280.60" x2="98.55" y2="282.40" stroke="#000" stroke-width="1.1" />
<line x1="102.07" y1="280.60" x2="102.07" y2="282.40" stroke="#000" stroke-width="1.1" />
<line x1="104.95" y1="280.60" x2="104.95" y2="282.40" stroke="#000" stroke-width="1.1" />
<line x1="107.38" y1="280.60" x2="107.38" y2="282.40" stroke="#000" stroke-width="1.1" />
<line x1="109.48" y1="280.60" x2="109.48" y2="282.40" stroke="#000" stroke-width="1.1" />
<line x1="111.34" y1="280.60" x2="111.34" y2="282.40" stroke="#000" stroke-width="1.1" />
<line x1="123.93" y1="280.60" x2="123.93" y2="282.40" stroke="#000" stroke-width="1.1" />
<line x1="130.32" y1="280.60" x2="130.32" y2="282.40" stroke="#000" stroke-width="1.1" />
<line x1="134.85" y1="280.60" x2="134.85" y2="282.40" stroke="#000" stroke-width="1.1" />
<line x1="138.37" y1="280.60" x2="138.37" y2="282.40" stroke="#000" stroke-width="1.1" />
<line x1="141.25" y1="280.60" x2="141.25" y2="282.40" stroke="#000" stroke-width="1.1" />
<line x1="143.68" y1="280.60" x2="143.68" y2="282.40" stroke="#000" stroke-width="1.1" />
<line x1="145.78" y1="280.60" x2="145.78" y2="282.40" stroke="#000" stroke-width="1.1" />
<line x1="147.64" y1="280.60" x2="147.64" y2="282.40" stroke="#000" stroke-width="1.1" />
<line x1="160.23" y1="280.60" x2="160.23" y2="282.40" stroke="#000" stroke-width="1.1" />
<line x1="166.62" y1="280.60" x2="166.62" y2="282.40" stroke="#000" stroke-width="1.1" />
<line x1="171.15" y1="280.60" x2="171.15" y2="282.40" stroke="#000" stroke-width="1.1" />
<line x1="174.67" y1="280.60" x2="174.67" y2="282.40" stroke="#000" stroke-width="1.1" />
<line x1="177.55" y1="280.60" x2="177.55" y2="282.40" stroke="#000" stroke-width="1.1" />
<line x1="179.98" y1="280.60" x2="179.98" y2="282.40" stroke="#000" stroke-width="1.1" />
<line x1="182.08" y1="280.60" x2="182.08" y2="282.40" stroke="#000" stroke-width="1.1" />
<line x1="183.94" y1="280.60" x2="183.94" y2="282.40" stroke="#000" stroke-width="1.1" />
<line x1="37.20" y1="280.60" x2="37.20" y2="282.40" stroke="#000" stroke-width="1.1" />
<line x1="38.80" y1="280.60" x2="38.80" y2="282.40" stroke="#000" stroke-width="1.1" />
<line x1="36.20" y1="200.96" x2="193.00" y2="200.96" stroke="#000" stroke-width="1.5" stroke-dasharray="11 3.8"/>
<polyline points="34.40,249.64 34.90,249.61 35.40,249.58 35.90,249.56 36.40,249.53 36.90,249.50 37.40,249.47 37.90,249.44 38.40,249.41 38.90,249.38 39.40,249.35 39.90,249.31 40.40,249.28 40.90,249.25 41.40,249.21 41.90,249.18 42.40,249.14 42.90,249.10 43.40,249.06 43.90,249.02 44.40,248.99 44.90,248.94 45.40,248.90 45.90,248.86 46.40,248.82 46.90,248.77 47.40,248.73 47.90,248.68 48.40,248.64 48.90,248.59 49.40,248.54 49.90,248.49 50.40,248.44 50.90,248.39 51.40,248.33 51.90,248.28 52.40,248.22 52.90,248.17 53.40,248.11 53.90,248.05 54.40,247.99 54.90,247.93 55.40,247.87 55.90,247.81 56.40,247.74 56.90,247.67 57.40,247.61 57.90,247.54 58.40,247.47 58.90,247.40 59.40,247.32 59.90,247.25 60.40,247.17 60.90,247.10 61.40,247.02 61.90,246.94 62.40,246.85 62.90,246.77 63.40,246.69 63.90,246.60 64.40,246.51 64.90,246.42 65.40,246.33 65.90,246.24 66.40,246.14 66.90,246.04 67.40,245.95 67.90,245.85 68.40,245.74 68.90,245.64 69.40,245.53 69.90,245.43 70.40,245.32 70.90,245.20 71.40,245.09 71.90,244.98 72.40,244.86 72.90,244.74 73.40,244.62 73.90,244.49 74.40,244.37 74.90,244.24 75.40,244.11 75.90,243.98 76.40,243.84 76.90,243.71 77.40,243.57 77.90,243.43 78.40,243.28 78.90,243.14 79.40,242.99 79.90,242.84 80.40,242.69 80.90,242.53 81.40,242.38 81.90,242.22 82.40,242.06 82.90,241.89 83.40,241.73 83.90,241.56 84.40,241.39 84.90,241.22 85.40,241.04 85.90,240.86 86.40,240.68 86.90,240.50 87.40,240.32 87.90,240.13 88.40,239.94 88.90,239.75 89.40,239.56 89.90,239.36 90.40,239.16 90.90,238.96 91.40,238.76 91.90,238.55 92.40,238.34 92.90,238.14 93.40,237.92 93.90,237.71 94.40,237.49 94.90,237.27 95.40,237.05 95.90,236.83 96.40,236.61 96.90,236.38 97.40,236.15 97.90,235.92 98.40,235.69 98.90,235.45 99.40,235.22 99.90,234.98 100.40,234.74 100.90,234.50 101.40,234.26 101.90,234.01 102.40,233.76 102.90,233.52 103.40,233.27 103.90,233.02 104.40,232.76 104.90,232.51 105.40,232.26 105.90,232.00 106.40,231.74 106.90,231.49 107.40,231.23 107.90,230.97 108.40,230.71 108.90,230.44 109.40,230.18 109.90,229.92 110.40,229.65 110.90,229.39 111.40,229.13 111.90,228.86 112.40,228.59 112.90,228.33 113.40,228.06 113.90,227.80 114.40,227.53 114.90,227.26 115.40,227.00 115.90,226.73 116.40,226.46 116.90,226.20 117.40,225.93 117.90,225.67 118.40,225.40 118.90,225.14 119.40,224.88 119.90,224.61 120.40,224.35 120.90,224.09 121.40,223.83 121.90,223.57 122.40,223.31 122.90,223.05 123.40,222.80 123.90,222.54 124.40,222.29 124.90,222.04 125.40,221.78 125.90,221.53 126.40,221.29 126.90,221.04 127.40,220.79 127.90,220.55 128.40,220.31 128.90,220.07 129.40,219.83 129.90,219.59 130.40,219.36 130.90,219.12 131.40,218.89 131.90,218.66 132.40,218.44 132.90,218.21 133.40,217.99 133.90,217.76 134.40,217.55 134.90,217.33 135.40,217.11 135.90,216.90 136.40,216.69 136.90,216.48 137.40,216.28 137.90,216.07 138.40,215.87 138.90,215.67 139.40,215.47 139.90,215.28 140.40,215.09 140.90,214.90 141.40,214.71 141.90,214.52 142.40,214.34 142.90,214.16 143.40,213.98 143.90,213.80 144.40,213.63 144.90,213.46 145.40,213.29 145.90,213.12 146.40,212.96 146.90,212.80 147.40,212.64 147.90,212.48 148.40,212.32 148.90,212.17 149.40,212.02 149.90,211.87 150.40,211.72 150.90,211.58 151.40,211.44 151.90,211.30 152.40,211.16 152.90,211.03 153.40,210.89 153.90,210.76 154.40,210.63 154.90,210.51 155.40,210.38 155.90,210.26 156.40,210.14 156.90,210.02 157.40,209.91 157.90,209.79 158.40,209.68 158.90,209.57 159.40,209.46 159.90,209.35 160.40,209.25 160.90,209.15 161.40,209.04 161.90,208.94 162.40,208.85 162.90,208.75 163.40,208.66 163.90,208.56 164.40,208.47 164.90,208.39 165.40,208.30 165.90,208.21 166.40,208.13 166.90,208.05 167.40,207.96 167.90,207.89 168.40,207.81 168.90,207.73 169.40,207.66 169.90,207.58 170.40,207.51 170.90,207.44 171.40,207.37 171.90,207.30 172.40,207.24 172.90,207.17 173.40,207.11 173.90,207.04 174.40,206.98 174.90,206.92 175.40,206.86 175.90,206.80 176.40,206.75 176.90,206.69 177.40,206.64 177.90,206.58 178.40,206.53 178.90,206.48 179.40,206.43 179.90,206.38 180.40,206.33 180.90,206.29 181.40,206.24 181.90,206.19 182.40,206.15 182.90,206.11 183.40,206.06 183.90,206.02 184.40,205.98" fill="none" stroke="#000" stroke-width="1.3"/>
<line x1="35.00" y1="245.70" x2="35.00" y2="253.30" stroke="#000" stroke-width="1.3" />
<line x1="32.30" y1="245.70" x2="37.70" y2="245.70" stroke="#000" stroke-width="1.3" />
<line x1="32.30" y1="253.30" x2="37.70" y2="253.30" stroke="#000" stroke-width="1.3" />
<circle cx="35.00" cy="249.50" r="2.2" fill="#000"/>
<line x1="55.50" y1="246.20" x2="55.50" y2="253.80" stroke="#000" stroke-width="1.3" />
<line x1="52.80" y1="246.20" x2="58.20" y2="246.20" stroke="#000" stroke-width="1.3" />
<line x1="52.80" y1="253.80" x2="58.20" y2="253.80" stroke="#000" stroke-width="1.3" />
<circle cx="55.50" cy="250.00" r="2.2" fill="#000"/>
<line x1="77.00" y1="236.60" x2="77.00" y2="243.40" stroke="#000" stroke-width="1.3" />
<line x1="74.30" y1="236.60" x2="79.70" y2="236.60" stroke="#000" stroke-width="1.3" />
<line x1="74.30" y1="243.40" x2="79.70" y2="243.40" stroke="#000" stroke-width="1.3" />
<circle cx="77.00" cy="240.00" r="2.2" fill="#000"/>
<line x1="101.75" y1="230.05" x2="101.75" y2="238.45" stroke="#000" stroke-width="1.3" />
<line x1="99.05" y1="230.05" x2="104.45" y2="230.05" stroke="#000" stroke-width="1.3" />
<line x1="99.05" y1="238.45" x2="104.45" y2="238.45" stroke="#000" stroke-width="1.3" />
<circle cx="101.75" cy="234.25" r="2.2" fill="#000"/>
<line x1="113.00" y1="224.60" x2="113.00" y2="231.40" stroke="#000" stroke-width="1.3" />
<line x1="110.30" y1="224.60" x2="115.70" y2="224.60" stroke="#000" stroke-width="1.3" />
<line x1="110.30" y1="231.40" x2="115.70" y2="231.40" stroke="#000" stroke-width="1.3" />
<circle cx="113.00" cy="228.00" r="2.2" fill="#000"/>
<line x1="138.00" y1="220.75" x2="138.00" y2="230.75" stroke="#000" stroke-width="1.3" />
<line x1="135.30" y1="220.75" x2="140.70" y2="220.75" stroke="#000" stroke-width="1.3" />
<line x1="135.30" y1="230.75" x2="140.70" y2="230.75" stroke="#000" stroke-width="1.3" />
<circle cx="138.00" cy="225.75" r="2.2" fill="#000"/>
<line x1="148.75" y1="203.60" x2="148.75" y2="210.40" stroke="#000" stroke-width="1.3" />
<line x1="146.05" y1="203.60" x2="151.45" y2="203.60" stroke="#000" stroke-width="1.3" />
<line x1="146.05" y1="210.40" x2="151.45" y2="210.40" stroke="#000" stroke-width="1.3" />
<circle cx="148.75" cy="207.00" r="2.2" fill="#000"/>
<line x1="184.25" y1="203.40" x2="184.25" y2="210.60" stroke="#000" stroke-width="1.3" />
<line x1="181.55" y1="203.40" x2="186.95" y2="203.40" stroke="#000" stroke-width="1.3" />
<line x1="181.55" y1="210.60" x2="186.95" y2="210.60" stroke="#000" stroke-width="1.3" />
<circle cx="184.25" cy="207.00" r="2.2" fill="#000"/>
<text x="0.50" y="166.20" font-size="11.5" text-anchor="start" font-weight="bold" font-style="normal" >D</text>
<text x="54.5" y="191.3" font-size="8.2" font-weight="bold" font-style="italic" text-anchor="start">IC<tspan font-size="5.0" dy="1.3">50</tspan><tspan dy="-1.3">=&#160; 11 &#181;M</tspan></text>
<text x="109.00" y="303.60" font-size="8.0" text-anchor="middle" font-weight="bold" font-style="normal" >EGCG (&#181;M)</text>
<text x="0.00" y="0.00" font-size="9.6" text-anchor="middle" font-weight="bold" font-style="normal" transform="translate(8.3,230.3) rotate(-90)">Pumps/min</text>
<text x="226.50" y="166.80" font-size="11.5" text-anchor="start" font-weight="bold" font-style="normal" >E</text>
<text x="0.00" y="0.00" font-size="8.45" text-anchor="middle" font-weight="bold" font-style="normal" transform="translate(233.1,226) rotate(-90)">Pumps/min</text>
<line x1="261.25" y1="165.75" x2="261.25" y2="286.00" stroke="#000" stroke-width="1.3" />
<line x1="260.75" y1="285.50" x2="486.90" y2="285.50" stroke="#000" stroke-width="1.3" />
<line x1="258.55" y1="285.50" x2="261.25" y2="285.50" stroke="#000" stroke-width="1.15" />
<text x="257.85" y="287.70" font-size="6.1" text-anchor="end" font-weight="bold" font-style="normal" >180</text>
<line x1="258.55" y1="265.62" x2="261.25" y2="265.62" stroke="#000" stroke-width="1.15" />
<text x="257.85" y="267.82" font-size="6.1" text-anchor="end" font-weight="bold" font-style="normal" >190</text>
<line x1="258.55" y1="245.75" x2="261.25" y2="245.75" stroke="#000" stroke-width="1.15" />
<text x="257.85" y="247.95" font-size="6.1" text-anchor="end" font-weight="bold" font-style="normal" >200</text>
<line x1="258.55" y1="225.88" x2="261.25" y2="225.88" stroke="#000" stroke-width="1.15" />
<text x="257.85" y="228.07" font-size="6.1" text-anchor="end" font-weight="bold" font-style="normal" >210</text>
<line x1="258.55" y1="206.00" x2="261.25" y2="206.00" stroke="#000" stroke-width="1.15" />
<text x="257.85" y="208.20" font-size="6.1" text-anchor="end" font-weight="bold" font-style="normal" >220</text>
<line x1="258.55" y1="186.12" x2="261.25" y2="186.12" stroke="#000" stroke-width="1.15" />
<text x="257.85" y="188.32" font-size="6.1" text-anchor="end" font-weight="bold" font-style="normal" >230</text>
<line x1="258.55" y1="166.25" x2="261.25" y2="166.25" stroke="#000" stroke-width="1.15" />
<text x="257.85" y="168.45" font-size="6.1" text-anchor="end" font-weight="bold" font-style="normal" >240</text>
<defs>
<pattern id="hd" width="2.55" height="2.55" patternUnits="userSpaceOnUse" patternTransform="rotate(-45)"><rect width="2.55" height="2.55" fill="#fff"/><line x1="0" y1="1.27" x2="2.55" y2="1.27" stroke="#000" stroke-width="0.85"/></pattern>
</defs>
<line x1="272.75" y1="180.50" x2="272.75" y2="184.25" stroke="#000" stroke-width="1.4" />
<line x1="269.05" y1="180.50" x2="276.45" y2="180.50" stroke="#000" stroke-width="1.4" />
<rect x="265.45" y="184.25" width="14.60" height="101.25" fill="#fff" stroke="#000" stroke-width="1.3"/>
<line x1="272.75" y1="285.50" x2="272.75" y2="288.70" stroke="#000" stroke-width="1.1" />
<text font-size="6.9" font-weight="bold" text-anchor="end" transform="translate(275.15,293.90) rotate(-45)">Vehicle</text>
<line x1="295.25" y1="234.25" x2="295.25" y2="238.00" stroke="#000" stroke-width="1.4" />
<line x1="291.55" y1="234.25" x2="298.95" y2="234.25" stroke="#000" stroke-width="1.4" />
<rect x="287.95" y="238.00" width="14.60" height="47.50" fill="#000" stroke="#000" stroke-width="1.3"/>
<line x1="295.25" y1="285.50" x2="295.25" y2="288.70" stroke="#000" stroke-width="1.1" />
<text font-size="6.9" font-weight="bold" text-anchor="end" transform="translate(297.65,293.90) rotate(-45)">H6-BJ</text>
<text x="296.25" y="233.30" font-size="13.5" text-anchor="middle" font-weight="bold" font-style="normal" letter-spacing="0.4">**</text>
<line x1="317.75" y1="173.50" x2="317.75" y2="178.75" stroke="#000" stroke-width="1.4" />
<line x1="314.05" y1="173.50" x2="321.45" y2="173.50" stroke="#000" stroke-width="1.4" />
<rect x="310.45" y="178.75" width="14.60" height="106.75" fill="#8c8c8c" stroke="#000" stroke-width="1.3"/>
<line x1="317.75" y1="285.50" x2="317.75" y2="288.70" stroke="#000" stroke-width="1.1" />
<text font-size="6.9" font-weight="bold" text-anchor="end" transform="translate(320.15,293.90) rotate(-45)">NAC 5mM</text>
<circle cx="314.65" cy="168.50" r="1.85" fill="none" stroke="#000" stroke-width="1.35"/>
<circle cx="320.85" cy="168.50" r="1.85" fill="none" stroke="#000" stroke-width="1.35"/>
<line x1="340.25" y1="188.00" x2="340.25" y2="192.50" stroke="#000" stroke-width="1.4" />
<line x1="336.55" y1="188.00" x2="343.95" y2="188.00" stroke="#000" stroke-width="1.4" />
<rect x="332.95" y="192.50" width="14.60" height="93.00" fill="#8c8c8c" stroke="#000" stroke-width="1.3"/>
<line x1="340.25" y1="285.50" x2="340.25" y2="288.70" stroke="#000" stroke-width="1.1" />
<text font-size="6.9" font-weight="bold" text-anchor="end" transform="translate(342.65,293.90) rotate(-45)">NAC+ H6-BJ</text>
<circle cx="337.15" cy="178.20" r="1.85" fill="none" stroke="#000" stroke-width="1.35"/>
<circle cx="343.35" cy="178.20" r="1.85" fill="none" stroke="#000" stroke-width="1.35"/>
<line x1="362.75" y1="180.50" x2="362.75" y2="184.25" stroke="#000" stroke-width="1.4" />
<line x1="359.05" y1="180.50" x2="366.45" y2="180.50" stroke="#000" stroke-width="1.4" />
<rect x="355.45" y="184.25" width="14.60" height="101.25" fill="url(#hd)" stroke="#000" stroke-width="1.3"/>
<line x1="362.75" y1="285.50" x2="362.75" y2="288.70" stroke="#000" stroke-width="1.1" />
<text font-size="6.9" font-weight="bold" text-anchor="end" transform="translate(365.15,293.90) rotate(-45)">Ascorbic acid&#160; 284 &#181;M</text>
<circle cx="359.65" cy="175.70" r="1.85" fill="none" stroke="#000" stroke-width="1.35"/>
<circle cx="365.85" cy="175.70" r="1.85" fill="none" stroke="#000" stroke-width="1.35"/>
<line x1="385.25" y1="191.75" x2="385.25" y2="195.50" stroke="#000" stroke-width="1.4" />
<line x1="381.55" y1="191.75" x2="388.95" y2="191.75" stroke="#000" stroke-width="1.4" />
<rect x="377.95" y="195.50" width="14.60" height="90.00" fill="url(#hd)" stroke="#000" stroke-width="1.3"/>
<line x1="385.25" y1="285.50" x2="385.25" y2="288.70" stroke="#000" stroke-width="1.1" />
<text font-size="6.9" font-weight="bold" text-anchor="end" transform="translate(387.65,293.90) rotate(-45)">Ascorbic acid + H6-BJ</text>
<circle cx="382.15" cy="183.20" r="1.85" fill="none" stroke="#000" stroke-width="1.35"/>
<circle cx="388.35" cy="183.20" r="1.85" fill="none" stroke="#000" stroke-width="1.35"/>
<line x1="407.75" y1="188.00" x2="407.75" y2="192.50" stroke="#000" stroke-width="1.4" />
<line x1="404.05" y1="188.00" x2="411.45" y2="188.00" stroke="#000" stroke-width="1.4" />
<rect x="400.45" y="192.50" width="14.60" height="93.00" fill="#fff" stroke="#000" stroke-width="1.3"/>
<line x1="403.88" y1="192.50" x2="403.88" y2="285.50" stroke="#000" stroke-width="1.45" />
<line x1="407.75" y1="192.50" x2="407.75" y2="285.50" stroke="#000" stroke-width="1.45" />
<line x1="411.62" y1="192.50" x2="411.62" y2="285.50" stroke="#000" stroke-width="1.45" />
<line x1="407.75" y1="285.50" x2="407.75" y2="288.70" stroke="#000" stroke-width="1.1" />
<text font-size="6.9" font-weight="bold" text-anchor="end" transform="translate(410.15,293.90) rotate(-45)">Tetracycline&#160; 50 &#181;M</text>
<circle cx="404.65" cy="180.70" r="1.85" fill="none" stroke="#000" stroke-width="1.35"/>
<circle cx="410.85" cy="180.70" r="1.85" fill="none" stroke="#000" stroke-width="1.35"/>
<line x1="430.25" y1="202.50" x2="430.25" y2="206.25" stroke="#000" stroke-width="1.4" />
<line x1="426.55" y1="202.50" x2="433.95" y2="202.50" stroke="#000" stroke-width="1.4" />
<rect x="422.95" y="206.25" width="14.60" height="79.25" fill="#fff" stroke="#000" stroke-width="1.3"/>
<line x1="426.38" y1="206.25" x2="426.38" y2="285.50" stroke="#000" stroke-width="1.45" />
<line x1="430.25" y1="206.25" x2="430.25" y2="285.50" stroke="#000" stroke-width="1.45" />
<line x1="434.12" y1="206.25" x2="434.12" y2="285.50" stroke="#000" stroke-width="1.45" />
<line x1="430.25" y1="285.50" x2="430.25" y2="288.70" stroke="#000" stroke-width="1.1" />
<text font-size="6.9" font-weight="bold" text-anchor="end" transform="translate(432.65,293.90) rotate(-45)">Tetracycline + H6-BJ</text>
<text x="430.25" y="200.20" font-size="10" text-anchor="middle" font-weight="bold" font-style="normal" >*</text>
<line x1="452.75" y1="190.00" x2="452.75" y2="193.00" stroke="#000" stroke-width="1.4" />
<line x1="449.05" y1="190.00" x2="456.45" y2="190.00" stroke="#000" stroke-width="1.4" />
<rect x="445.45" y="193.00" width="14.60" height="92.50" fill="#cbcbcb" stroke="#000" stroke-width="1.3"/>
<line x1="452.75" y1="285.50" x2="452.75" y2="288.70" stroke="#000" stroke-width="1.1" />
<text font-size="6.9" font-weight="bold" text-anchor="end" transform="translate(455.15,293.90) rotate(-45)">EGCG 100 &#181;M</text>
<circle cx="449.65" cy="183.70" r="1.85" fill="none" stroke="#000" stroke-width="1.35"/>
<circle cx="455.85" cy="183.70" r="1.85" fill="none" stroke="#000" stroke-width="1.35"/>
<line x1="475.25" y1="190.50" x2="475.25" y2="193.00" stroke="#000" stroke-width="1.4" />
<line x1="471.55" y1="190.50" x2="478.95" y2="190.50" stroke="#000" stroke-width="1.4" />
<rect x="467.95" y="193.00" width="14.60" height="92.50" fill="#cbcbcb" stroke="#000" stroke-width="1.3"/>
<line x1="475.25" y1="285.50" x2="475.25" y2="288.70" stroke="#000" stroke-width="1.1" />
<text font-size="6.9" font-weight="bold" text-anchor="end" transform="translate(477.65,293.90) rotate(-45)">EGCG + H6-BJ</text>
<circle cx="472.15" cy="184.95" r="1.85" fill="none" stroke="#000" stroke-width="1.35"/>
<circle cx="478.35" cy="184.95" r="1.85" fill="none" stroke="#000" stroke-width="1.35"/>
</svg>
</body></html>
